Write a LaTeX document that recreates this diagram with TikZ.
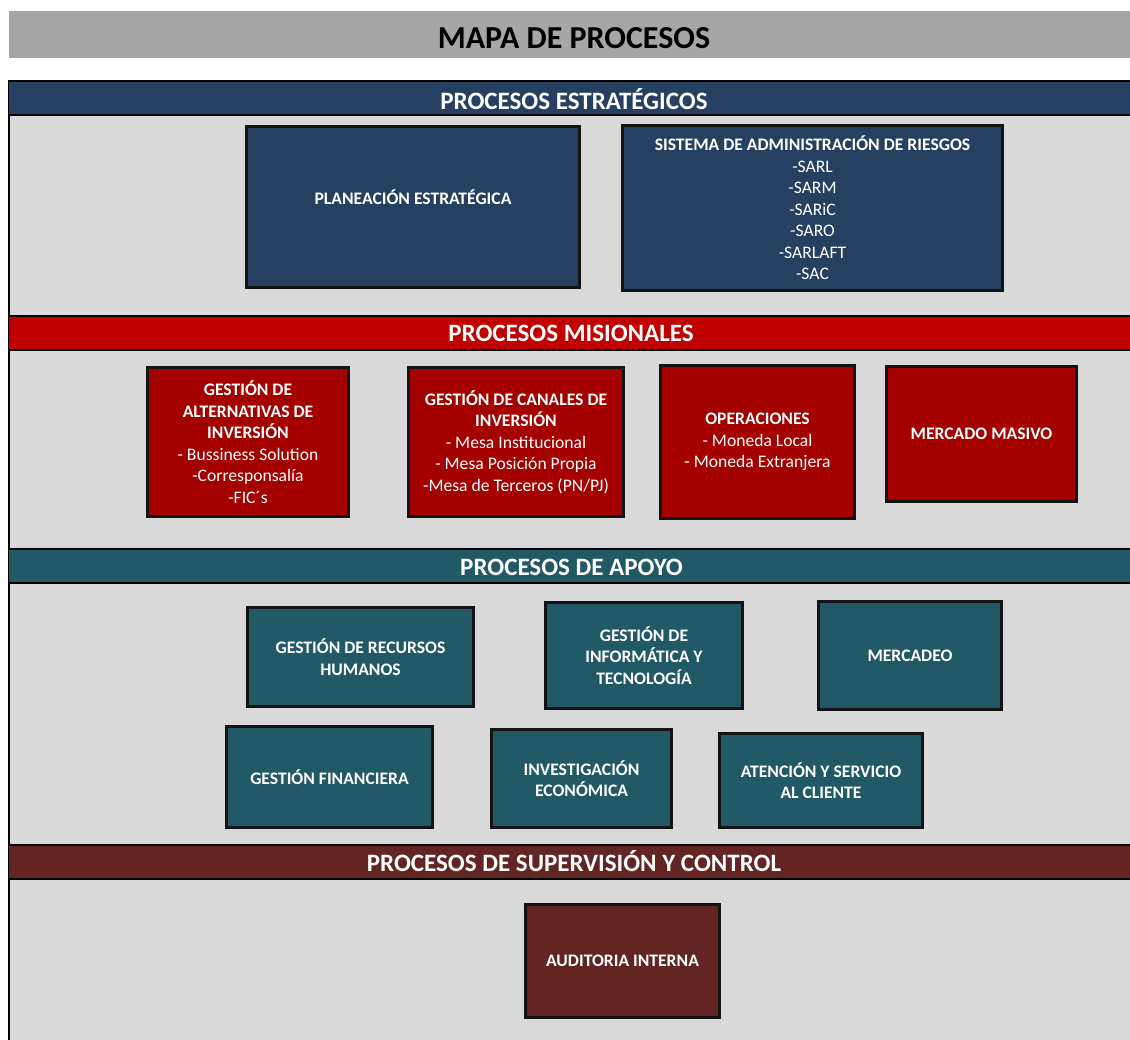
\documentclass[tikz,border=0pt]{standalone}
\usepackage{fontspec}
\setmainfont{Carlito}
\definecolor{titlegray}{HTML}{A6A6A6}
\definecolor{panelgray}{HTML}{D9D9D9}
\definecolor{stratblue}{HTML}{254061}
\definecolor{misred}{HTML}{C00000}
\definecolor{misbox}{HTML}{A50000}
\definecolor{apoyoteal}{HTML}{215967}
\definecolor{supred}{HTML}{632523}
\tikzset{
  band/.style={draw=black, line width=2pt},
  bandtext/.style={text=white, font=\fontsize{25}{28}\selectfont\bfseries, inner sep=0pt},
  pbox/.style={draw=black!92, line width=2.6pt, text=white, align=center, inner sep=0pt,
    font=\fontsize{17.6}{21.5}\selectfont},
  plabel/.style={text=white, align=center, inner sep=0pt, font=\fontsize{17.6}{21.5}\selectfont\bfseries},
}
\begin{document}
\begin{tikzpicture}[x=1pt, y=-1pt]
\clip (0,0) rectangle (1130,1039);
\fill[white] (0,0) rectangle (1130,1039);
% title bar
\fill[titlegray] (9,11) rectangle (1135,58);
\node[font=\fontsize{32}{36}\selectfont\bfseries, inner sep=0pt] (title) at (574,38) {MAPA DE PROCESOS};
% panel background and frame
\fill[panelgray] (9,81) rectangle (1135,1045);
\draw[line width=2pt] (9,1045) -- (9,81) -- (1135,81);
% section bands
\fill[stratblue] (9,81) rectangle (1135,115);
\draw[band] (9,81) -- (1135,81) (9,115) -- (1135,115);
\node[bandtext] (hestr) at (574,99) {PROCESOS ESTRATÉGICOS};
\fill[misred] (9,316) rectangle (1135,350);
\draw[band] (9,316) -- (1135,316) (9,350) -- (1135,350);
\node[bandtext] (hmis) at (571,333) {PROCESOS MISIONALES};
\fill[apoyoteal] (9,549) rectangle (1135,583);
\draw[band] (9,549) -- (1135,549) (9,583) -- (1135,583);
\node[bandtext] (hapo) at (571.5,567) {PROCESOS DE APOYO};
\fill[supred] (9,845) rectangle (1135,879);
\draw[band] (9,845) -- (1135,845) (9,879) -- (1135,879);
\node[bandtext] (hsup) at (574,861) {PROCESOS DE SUPERVISIÓN Y CONTROL};
% strategic processes
\node[pbox, fill=stratblue, minimum width=333, minimum height=161] (plan) at (413,207) {};
\node[plabel] (plantext) at ([yshift=10pt]plan.center) {PLANEACIÓN ESTRATÉGICA};
\node[pbox, fill=stratblue, minimum width=380, minimum height=165] (sist) at (812.5,208)
  {\bfseries SISTEMA DE ADMINISTRACIÓN DE RIESGOS\\-SARL\\-SARM\\-SARiC\\-SARO\\-SARLAFT\\-SAC};
% mission processes
\node[pbox, fill=misbox, minimum width=201, minimum height=149] (alt) at (248,442)
  {\bfseries GESTIÓN DE\\\bfseries ALTERNATIVAS DE\\\bfseries INVERSIÓN\\- Bussiness Solution\\-Corresponsalía\\-FIC´s};
\node[pbox, fill=misbox, minimum width=215, minimum height=149] (can) at (516,442)
  {\bfseries GESTIÓN DE CANALES DE\\\bfseries INVERSIÓN\\- Mesa Institucional\\- Mesa Posición Propia\\-Mesa de Terceros (PN/PJ)};
\node[pbox, fill=misbox, minimum width=194, minimum height=153] (ope) at (757.5,442)
  {\bfseries OPERACIONES\\- Moneda Local\\- Moneda Extranjera};
\node[pbox, fill=misbox, minimum width=190, minimum height=135] (mm) at (981.5,434)
  {\bfseries MERCADO MASIVO};
% support processes
\node[pbox, fill=apoyoteal, minimum width=226, minimum height=99] (rh) at (360.5,657)
  {\bfseries GESTIÓN DE RECURSOS\\\bfseries HUMANOS};
\node[pbox, fill=apoyoteal, minimum width=197, minimum height=106] (inf) at (644,655.5)
  {\bfseries GESTIÓN DE\\\bfseries INFORMÁTICA Y\\\bfseries TECNOLOGÍA};
\node[pbox, fill=apoyoteal, minimum width=183, minimum height=108] (mer) at (910,655.5)
  {\bfseries MERCADEO};
\node[pbox, fill=apoyoteal, minimum width=206, minimum height=101] (fin) at (329.5,777)
  {\bfseries GESTIÓN FINANCIERA};
\node[pbox, fill=apoyoteal, minimum width=180, minimum height=98] (inv) at (581.5,778.5)
  {\bfseries INVESTIGACIÓN\\\bfseries ECONÓMICA};
\node[pbox, fill=apoyoteal, minimum width=203, minimum height=94] (ate) at (821,780.5)
  {\bfseries ATENCIÓN Y SERVICIO\\\bfseries AL CLIENTE};
% supervision and control
\node[pbox, fill=supred, minimum width=194, minimum height=113] (aud) at (622.5,961)
  {\bfseries AUDITORIA INTERNA};
\end{tikzpicture}
\end{document}
